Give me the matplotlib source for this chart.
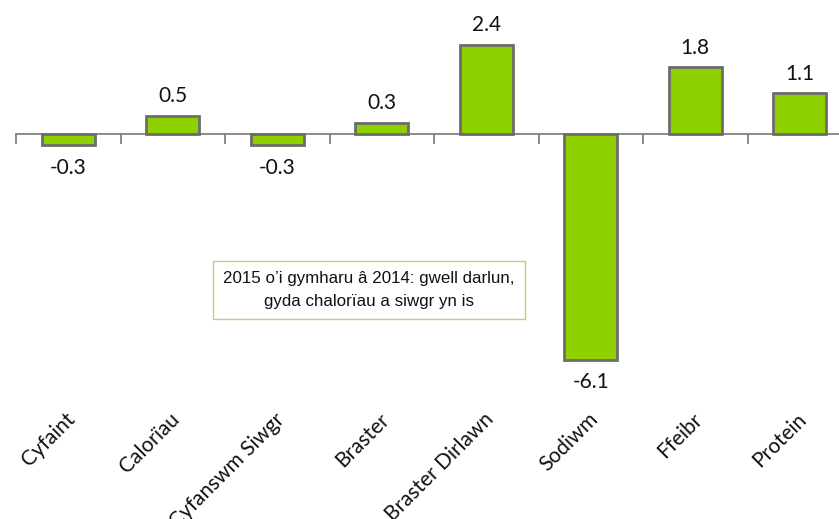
import matplotlib.pyplot as plt
from matplotlib.transforms import blended_transform_factory

categories = ['Cyfaint', 'Calorïau', 'Cyfanswm Siwgr', 'Braster',
              'Braster Dirlawn', 'Sodiwm', 'Ffeibr', 'Protein']
values = [-0.3, 0.5, -0.3, 0.3, 2.4, -6.1, 1.8, 1.1]
value_labels = ['-0.3', '0.5', '-0.3', '0.3', '2.4', '-6.1', '1.8', '1.1']
note = "2015 o’i gymharu â 2014: gwell darlun,\ngyda chalorïau a siwgr yn is"

W, H = 839, 519
fig = plt.figure(figsize=(W / 100, H / 100), dpi=100)

# axes placed in pixels: zero line at y=134, 37 px per unit
top_px, bot_px = 0, 380
ax = fig.add_axes([16 / W, 1 - bot_px / H, 836 / W, (bot_px - top_px) / H])
ax.set_xlim(-0.5, 7.5)
ax.set_ylim(-(bot_px - 134) / 37, 134 / 37)

x = range(len(categories))
ax.bar(x, values, width=0.51, color='#8fd000', edgecolor='#6d6d6d', linewidth=2, zorder=3)

for s in ['top', 'right', 'left']:
    ax.spines[s].set_visible(False)
ax.spines['bottom'].set_position(('data', 0))
ax.spines['bottom'].set_color('#777777')
ax.spines['bottom'].set_linewidth(1.2)
ax.set_yticks([])
ax.set_xticks([i - 0.5 for i in range(len(categories) + 1)])
ax.set_xticklabels([])
ax.tick_params(axis='x', length=7, width=1.2, color='#777777', direction='out')

for i, (v, lab) in enumerate(zip(values, value_labels)):
    ax.annotate(lab, (i, v), xytext=(0, 7 if v > 0 else -9), textcoords='offset points',
                ha='center', va='bottom' if v > 0 else 'top',
                fontsize=15, family='Lato', color='#111111')

# category names sit low under the chart, rotated
trans = blended_transform_factory(ax.transData, fig.transFigure)
for i, c in enumerate(categories):
    ax.text(i - 0.03, 1 - 409 / H, c, transform=trans, rotation=45,
            rotation_mode='anchor', ha='right', va='top',
            fontsize=15, family='Lato', color='#111111')

fig.text(369 / W, 1 - 290 / H, note, ha='center', va='center',
         fontsize=12.2, family='Liberation Sans', color='#111111', linespacing=1.6,
         bbox=dict(boxstyle='square,pad=0.6', facecolor='white', edgecolor='#b7d66c', linewidth=1))

fig.savefig('out.png', dpi=100)
